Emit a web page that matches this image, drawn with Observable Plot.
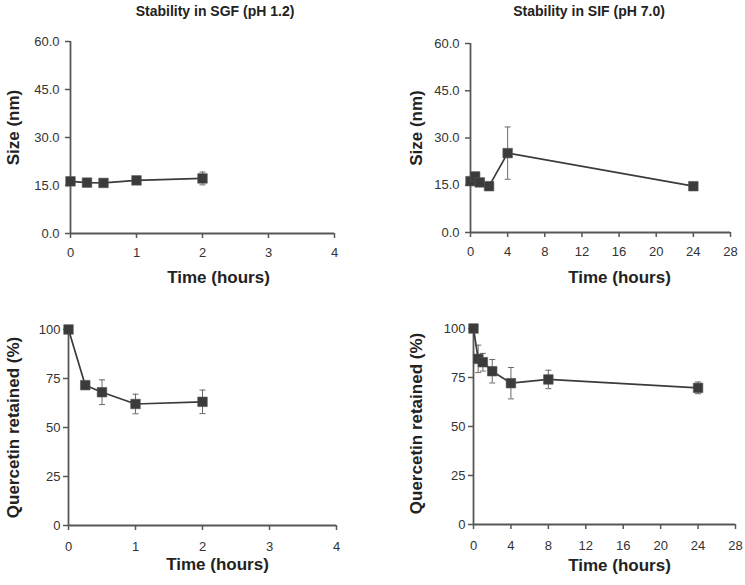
<!DOCTYPE html>
<html><head><meta charset="utf-8">
<script src="https://cdn.jsdelivr.net/npm/d3@7"></script>
<script src="https://cdn.jsdelivr.net/npm/@observablehq/plot@0.6"></script>
<style>
body{margin:0;background:#fff;font-family:"Liberation Sans",Arial,sans-serif;}
#root{position:relative;width:745px;height:585px;overflow:hidden;background:#fff;}
.panel{position:absolute;}
.title{position:absolute;font-weight:bold;font-size:14px;color:#222;white-space:nowrap;transform:translate(-50%,-50%);}
</style></head><body><div id="root"></div>
<script>
// ---- data ----
const sgfSizeTime = [0, 0.25, 0.5, 1, 2];
const sgfSize     = [16.3, 15.9, 15.8, 16.6, 17.2];
const sgfSizeErr  = [0.5, 1.2, 0.5, 0.8, 2.0];

const sifSizeTime = [0, 0.5, 1, 2, 4, 24];
const sifSize     = [16.3, 17.8, 15.9, 14.7, 25.2, 14.7];
const sifSizeErr  = [0.6, 1.0, 0.5, 0.4, 8.3, 0.5];

const sgfRetTime = [0, 0.25, 0.5, 1, 2];
const sgfRet     = [100, 71.6, 68.0, 62.0, 63.1];
const sgfRetErr  = [0.5, 1.0, 6.3, 5.0, 6.0];

const sifRetTime = [0, 0.5, 1, 2, 4, 8, 24];
const sifRet     = [100, 84.5, 82.8, 78.2, 72.1, 74.0, 69.7];
const sifRetErr  = [0.5, 7.0, 4.5, 6.0, 8.0, 4.7, 3.0];

const titles = ["Stability in SGF (pH 1.2)", "Stability in SIF (pH 7.0)"];
const xLabel = "Time (hours)";
const sizeLabel = "Size (nm)";
const retLabel = "Quercetin retained (%)";
const xTicksSGF = [0, 1, 2, 3, 4];
const xTicksSIF = [0, 4, 8, 12, 16, 20, 24, 28];
const yTicksSize = [0, 15, 30, 45, 60];
const yTicksRet = [0, 25, 50, 75, 100];

// ---- layout ----
const INK = "#3b3b3b";
const AXIS = "#575757";
const capSymbol = {draw(ctx, size) { const w = Math.sqrt(size); ctx.moveTo(-w / 2, 0); ctx.lineTo(w / 2, 0); }};

const panels = [
  {left: 0, top: 20, width: 372, height: 270, mt: 21, mb: 57, ml: 70, mr: 38,
   t: sgfSizeTime, v: sgfSize, e: sgfSizeErr, xd: [0, 4], xt: xTicksSGF, yd: [0, 60], yt: yTicksSize, fmt: d3.format(".1f"),
   yl: sizeLabel, xdx: 16, xdy: 49, ydx: -57, ydy: -10, tickPad: 6, xPad: 9},
  {left: 372, top: 20, width: 373, height: 270, mt: 23, mb: 58, ml: 98, mr: 15,
   t: sifSizeTime, v: sifSize, e: sifSizeErr, xd: [0, 28], xt: xTicksSIF, yd: [0, 60], yt: yTicksSize, fmt: d3.format(".1f"),
   yl: sizeLabel, xdx: 19, xdy: 50, ydx: -54, ydy: -10, tickPad: 6, xPad: 9},
  {left: 0, top: 290, width: 372, height: 295, mt: 39, mb: 60, ml: 68, mr: 36,
   t: sgfRetTime, v: sgfRet, e: sgfRetErr, xd: [0, 4], xt: xTicksSGF, yd: [0, 100], yt: yTicksRet, fmt: d3.format("d"),
   yl: retLabel, xdx: 15, xdy: 44, ydx: -55, ydy: 0, tickPad: 3, xPad: 11},
  {left: 372, top: 290, width: 373, height: 295, mt: 38, mb: 61, ml: 101, mr: 10,
   t: sifRetTime, v: sifRet, e: sifRetErr, xd: [0, 28], xt: xTicksSIF, yd: [0, 100], yt: yTicksRet, fmt: d3.format("d"),
   yl: retLabel, xdx: 15, xdy: 46, ydx: -57, ydy: -3, tickPad: 3, xPad: 11}
];

const root = document.getElementById("root");

titles.forEach((txt, i) => {
  const d = document.createElement("div");
  d.className = "title";
  d.textContent = txt;
  d.style.left = (i === 0 ? 215 : 589) + "px";
  d.style.top = "11px";
  root.appendChild(d);
});

panels.forEach(p => {
  const data = p.t.map((t, i) => ({t, v: p.v[i], e: p.e[i]}));
  const chart = Plot.plot({
    width: p.width, height: p.height,
    marginTop: p.mt, marginBottom: p.mb, marginLeft: p.ml, marginRight: p.mr,
    style: {fontFamily: '"Liberation Sans", Arial, sans-serif', fontSize: "13px", color: "#333", background: "transparent", overflow: "visible"},
    x: {domain: p.xd, label: null},
    y: {domain: p.yd, label: null},
    marks: [
      Plot.axisY({ticks: p.yt, tickFormat: p.fmt, tickSize: 5, tickPadding: p.tickPad, stroke: AXIS, strokeWidth: 1.5, fill: "#333", fontSize: 13, label: null}),
      Plot.axisX({ticks: p.xt, tickFormat: d3.format("d"), tickSize: 5, tickPadding: p.xPad, stroke: AXIS, strokeWidth: 1.5, fill: "#333", fontSize: 13, label: null}),
      Plot.ruleY([p.yd[0]], {stroke: AXIS, strokeWidth: 1.8}),
      Plot.ruleX([p.xd[0]], {stroke: AXIS, strokeWidth: 1.8}),
      Plot.ruleX(data, {x: "t", y1: d => d.v - d.e, y2: d => d.v + d.e, stroke: "#6a6a6a", strokeWidth: 1}),
      Plot.dot(data, {x: "t", y: d => d.v + d.e, symbol: capSymbol, r: 3.4, stroke: "#6a6a6a", strokeWidth: 1, fill: "none"}),
      Plot.dot(data, {x: "t", y: d => d.v - d.e, symbol: capSymbol, r: 3.4, stroke: "#6a6a6a", strokeWidth: 1, fill: "none"}),
      Plot.line(data, {x: "t", y: "v", stroke: INK, strokeWidth: 1.7}),
      Plot.dot(data, {x: "t", y: "v", symbol: "square", r: 5.4, fill: INK, stroke: "#555", strokeWidth: 0.6}),
      Plot.text([xLabel], {text: d => d, frameAnchor: "bottom", textAnchor: "middle", dx: p.xdx, dy: p.xdy, fontSize: 17, fontWeight: "bold", fill: "#222"}),
      Plot.text([p.yl], {text: d => d, frameAnchor: "left", textAnchor: "middle", rotate: -90, dx: p.ydx, dy: p.ydy, fontSize: 17, fontWeight: "bold", fill: "#222"})
    ]
  });
  const wrap = document.createElement("div");
  wrap.className = "panel";
  wrap.style.left = p.left + "px";
  wrap.style.top = p.top + "px";
  wrap.appendChild(chart);
  root.appendChild(wrap);
});
</script>
</body></html>
